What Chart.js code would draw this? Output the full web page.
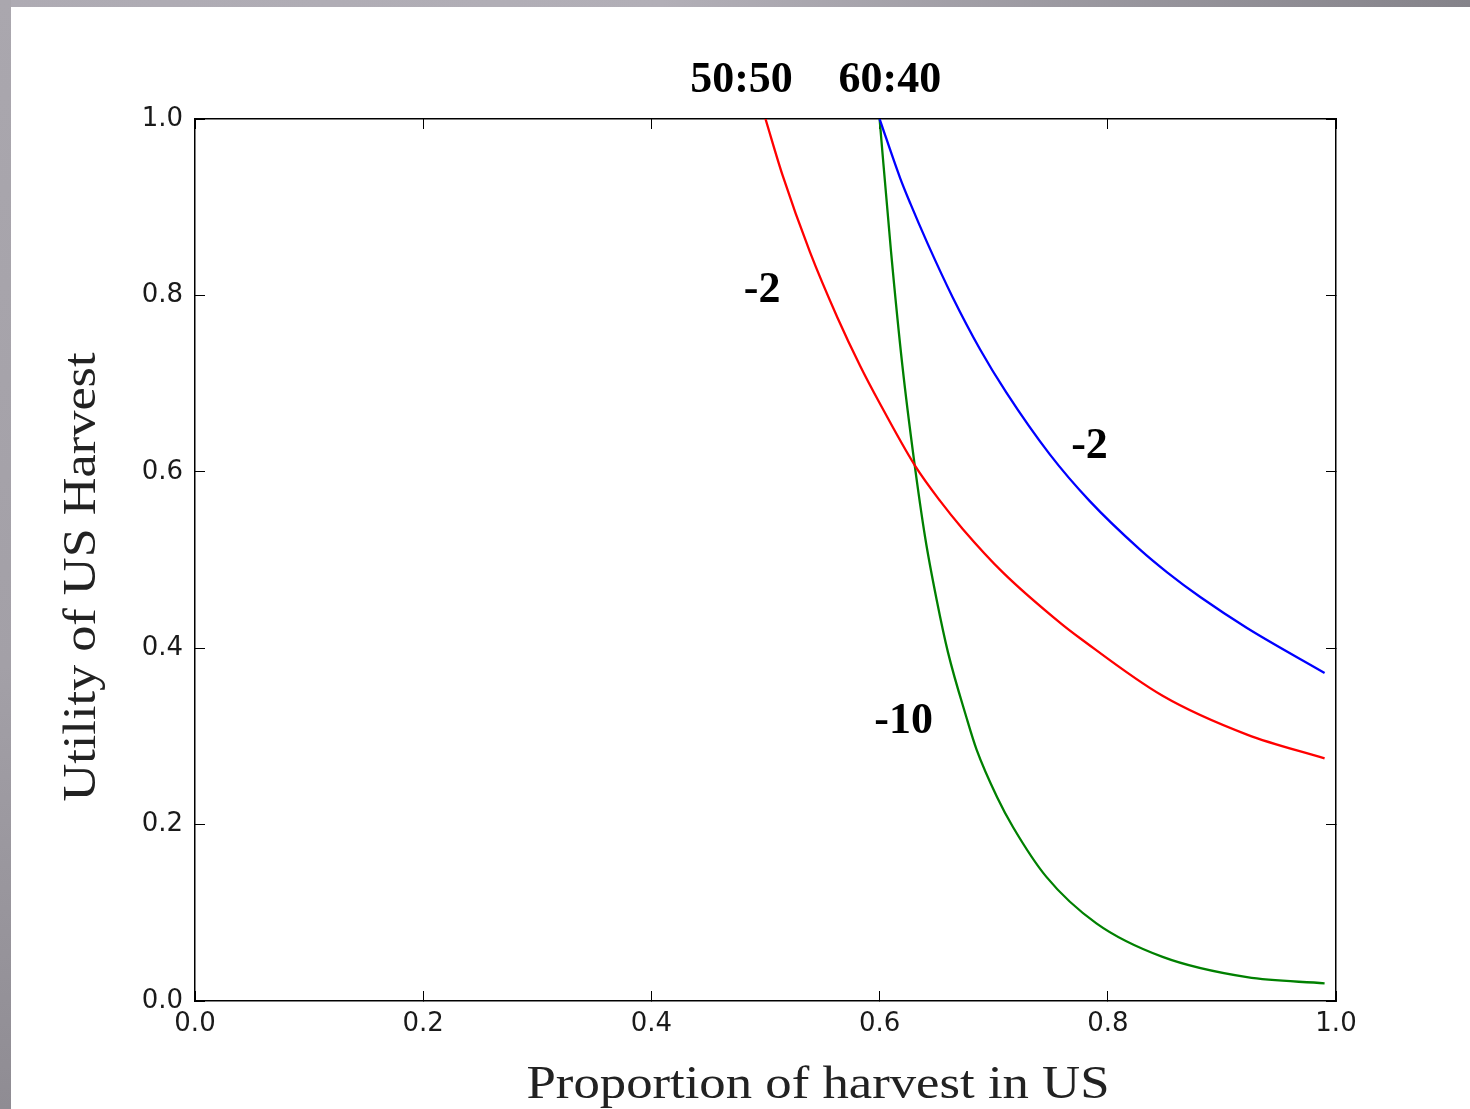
<!DOCTYPE html>
<html>
<head>
<meta charset="utf-8">
<script src="https://cdn.jsdelivr.net/npm/chart.js@4.4.1/dist/chart.umd.min.js"></script>
<style>
  html, body { margin: 0; padding: 0; background: #fff; overflow: hidden; }
  #wrap { position: relative; width: 1470px; height: 1109px; }
  #topbar { position: absolute; left: 0; top: 0; width: 1470px; height: 7px;
    background: linear-gradient(to right, #aeabb3, #b2afb7 45%, #85838a); }
  #leftbar { position: absolute; left: 0; top: 0; width: 11px; height: 1109px;
    background: linear-gradient(to bottom, #aaa7ae, #a3a0a7 60%, #8f8c93); }
  canvas { position: absolute; left: 0; top: 0; }
</style>
</head>
<body>
<div id="wrap">
  <div id="topbar"></div>
  <div id="leftbar"></div>
  <canvas id="chart" width="1470" height="1109"></canvas>
</div>
<script>
// values
const redX = [0.500, 0.515, 0.539, 0.563, 0.583, 0.600, 0.631, 0.653, 0.673, 0.708, 0.758, 0.776, 0.848, 0.922, 0.990];
const redY = [1.000, 0.936, 0.849, 0.775, 0.720, 0.678, 0.607, 0.567, 0.535, 0.486, 0.429, 0.411, 0.346, 0.302, 0.275];

const blueX = [0.600, 0.618, 0.627, 0.642, 0.664, 0.688, 0.711, 0.749, 0.784, 0.828, 0.852, 0.881, 0.922, 0.990];
const blueY = [1.000, 0.933, 0.904, 0.859, 0.798, 0.739, 0.690, 0.620, 0.567, 0.512, 0.486, 0.458, 0.423, 0.372];

const greenX = [0.600, 0.610, 0.620, 0.630, 0.640, 0.650, 0.660, 0.676, 0.685, 0.703, 0.717, 0.746, 0.790, 0.848, 0.922, 0.990];
const greenY = [1.000, 0.850, 0.720, 0.615, 0.525, 0.455, 0.395, 0.322, 0.285, 0.231, 0.197, 0.141, 0.088, 0.050, 0.027, 0.020];

const tickValues = [0, 0.2, 0.4, 0.6, 0.8, 1.0];

// text on the plot, in data coordinates
const notes = [
  { text: "50:50", x: 0.479, y: 1.031 },
  { text: "60:40", x: 0.609, y: 1.031 },
  { text: "-2", x: 0.497, y: 0.793 },
  { text: "-2", x: 0.784, y: 0.616 },
  { text: "-10", x: 0.621, y: 0.304 },
];

const xTitle = "Proportion of harvest in US";
const yTitle = "Utility of US Harvest";

function points(xs, ys) {
  return xs.map((x, i) => ({ x: x, y: ys[i] }));
}

function line(label, xs, ys, color) {
  return {
    label: label,
    data: points(xs, ys),
    borderColor: color,
    borderWidth: 2.3,
    pointRadius: 0,
    fill: false,
    cubicInterpolationMode: "monotone",
  };
}

const tickFont = { family: "DejaVu Sans", size: 26 };

/* text drawn on top of the chart */
const textPlugin = {
  id: "texts",
  afterDraw(chart) {
    const ctx = chart.ctx;
    const xs = chart.scales.x;
    const ys = chart.scales.y;

    ctx.save();
    ctx.fillStyle = "#000";
    ctx.font = "bold 44px 'Liberation Serif'";
    ctx.textAlign = "center";
    ctx.textBaseline = "alphabetic";
    notes.forEach((n) => {
      ctx.fillText(n.text, xs.getPixelForValue(n.x), ys.getPixelForValue(n.y));
    });
    ctx.restore();

    // axis titles, stretched to the width of the original face
    ctx.save();
    ctx.fillStyle = "#222";
    ctx.font = "46px 'Liberation Serif'";
    ctx.textAlign = "center";
    ctx.textBaseline = "alphabetic";
    let sx = 583 / ctx.measureText(xTitle).width;
    ctx.translate(818, 1098);
    ctx.scale(sx, 1);
    ctx.fillText(xTitle, 0, 0);
    ctx.restore();

    ctx.save();
    ctx.fillStyle = "#222";
    ctx.font = "46px 'Liberation Serif'";
    ctx.textAlign = "center";
    ctx.textBaseline = "alphabetic";
    let sy = 449 / ctx.measureText(yTitle).width;
    ctx.translate(95, 577);
    ctx.rotate(-Math.PI / 2);
    ctx.scale(sy, 1);
    ctx.fillText(yTitle, 0, 0);
    ctx.restore();
  },
};

function axis(position, showLabels, pad) {
  return {
    type: "linear",
    position: position,
    min: 0,
    max: 1,
    afterBuildTicks: (s) => { s.ticks = tickValues.map((v) => ({ value: v })); },
    afterFit: (s) => {
      if (position === "left") s.width = 195;
      if (position === "bottom") s.height = 108;
      if (position === "top") s.height = 0;
      if (position === "right") s.width = 0;
    },
    grid: {
      drawOnChartArea: false,
      drawTicks: true,
      tickLength: -10,
      color: "#000",
      lineWidth: 1,
    },
    border: { display: true, color: "#000", width: 1.5 },
    ticks: {
      display: showLabels,
      font: tickFont,
      color: "#1a1a1a",
      padding: pad,
      maxRotation: 0,
      callback: (v) => v.toFixed(1),
    },
  };
}

new Chart(document.getElementById("chart"), {
  type: "line",
  data: {
    datasets: [
      line("red", redX, redY, "#ff0000"),
      line("blue", blueX, blueY, "#0000ff"),
      line("green", greenX, greenY, "#008000"),
    ],
  },
  options: {
    responsive: false,
    animation: false,
    layout: { padding: { top: 119, right: 134, bottom: 0, left: 0 } },
    plugins: { legend: { display: false }, tooltip: { enabled: false } },
    scales: {
      x: axis("bottom", true, 18),
      y: axis("left", true, 22),
      x2: axis("top", false, 0),
      y2: axis("right", false, 0),
    },
  },
  plugins: [textPlugin],
});
</script>
</body>
</html>
